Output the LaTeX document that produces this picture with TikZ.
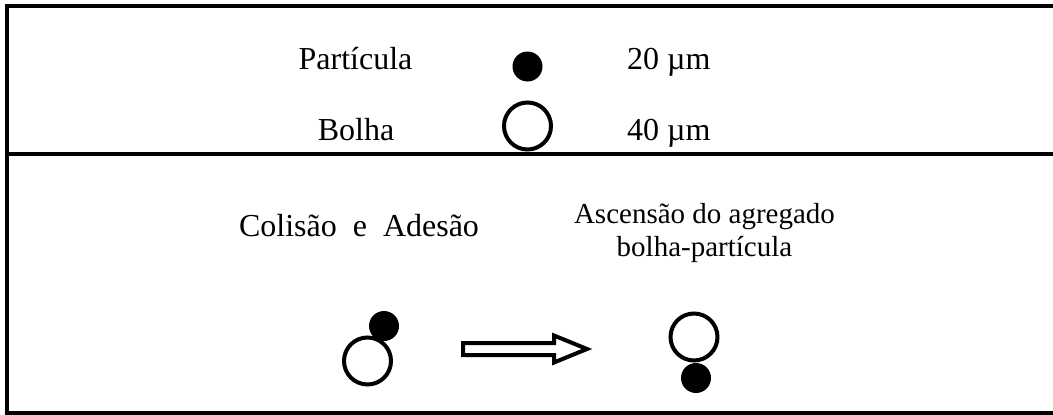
\documentclass[tikz,border=0pt]{standalone}
\usepackage{fontspec}
\setmainfont{Liberation Serif}
\usetikzlibrary{positioning}
\tikzset{
  lbl/.style={font=\fontsize{32}{36}\selectfont, inner sep=0pt, anchor=base},
  grain/.style={circle, fill=black, minimum size=30pt, inner sep=0pt},
  bubble/.style={circle, draw=black, line width=4pt, minimum size=47pt, inner sep=0pt},
}
\begin{document}
\begin{tikzpicture}[x=1pt, y=-1pt]
\useasboundingbox (0,0) rectangle (1053,415);
\draw[line width=4pt] (1060,6) -- (7,6) -- (7,413) -- (1060,413);
\draw[line width=3.5pt] (7,154) -- (1060,154);

\node[lbl] (part) at (355.5,69) {Partícula};
\node[lbl] (bolha) at (356,140) {Bolha};
\node[grain] (gr) at (527.5,66.5) {};
\node[bubble] (bu) at (527.5,126) {};
\node[lbl, anchor=base west] (d20) at (627,69) {20 µm};
\node[lbl, anchor=base west] (d40) at (627,140) {40 µm};

\node[lbl] (col) at (359,236) {Colisão\ \ e\ \ Adesão};
\node[lbl, font=\fontsize{29}{33}\selectfont, align=center] (asc) at (704.5,256) {Ascensão do agregado\\bolha-partícula};

\node[bubble] (b1) at (367.5,361) {};
\node[grain] (g1) at (384,326) {};
\node[bubble] (b2) at (694,337) {};
\node[grain] (g2) at (696,378) {};

\draw[line width=4pt] (463,343) -- (554,343) -- (554,335.5) -- (587,349) -- (554,362.5) -- (554,355) -- (463,355) -- cycle;
\end{tikzpicture}
\end{document}
